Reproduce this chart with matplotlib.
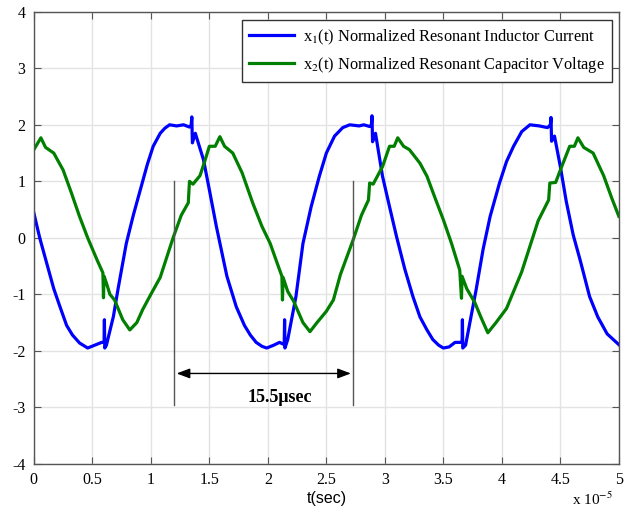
import matplotlib
matplotlib.use('Agg')
import matplotlib.pyplot as plt

# time axis in units of 1e-5 s
t_x1 = [0, 0.05, 0.11, 0.17, 0.22, 0.28, 0.33, 0.39, 0.46, 0.52, 0.58, 0.60, 0.603, 0.606, 0.62,
        0.68, 0.72, 0.79, 0.85, 0.91, 0.97, 1.02, 1.08, 1.12, 1.16, 1.22, 1.28, 1.33, 1.345, 1.35, 1.355,
        1.38, 1.45, 1.50, 1.56, 1.65, 1.73, 1.80, 1.85, 1.90, 1.95, 1.99, 2.05, 2.10, 2.13, 2.14, 2.143,
        2.146, 2.17, 2.24, 2.30, 2.37, 2.44, 2.50, 2.57, 2.64, 2.70, 2.78, 2.82, 2.87, 2.885, 2.89,
        2.895, 2.92, 2.98, 3.04, 3.10, 3.17, 3.24, 3.30, 3.36, 3.41, 3.46, 3.50, 3.55, 3.60, 3.65, 3.66, 3.663,
        3.666, 3.69, 3.78, 3.84, 3.90, 3.98, 4.04, 4.10, 4.17, 4.24, 4.32, 4.39, 4.415, 4.42, 4.425,
        4.45, 4.50, 4.55, 4.61, 4.67, 4.75, 4.82, 4.90, 5.0]
x1 = [0.44, 0.0, -0.45, -0.9, -1.2, -1.55, -1.72, -1.86, -1.95, -1.9, -1.85, -1.85, -1.45, -1.95, -1.9,
      -1.39, -0.9, -0.1, 0.4, 0.85, 1.3, 1.62, 1.85, 1.94, 2.0, 1.98, 2.0, 1.96, 2.0, 2.14, 1.68,
      1.85, 1.38, 0.85, 0.2, -0.68, -1.22, -1.55, -1.72, -1.85, -1.92, -1.95, -1.9, -1.85, -1.88, -1.85, -1.45,
      -1.95, -1.8, -1.04, -0.1, 0.55, 1.09, 1.5, 1.8, 1.95, 2.0, 1.98, 2.0, 1.97, 2.0, 2.16,
      1.7, 1.85, 1.09, 0.55, 0.02, -0.55, -1.04, -1.4, -1.63, -1.8, -1.9, -1.95, -1.93, -1.85, -1.85, -1.85, -1.45,
      -1.95, -1.9, -0.92, -0.2, 0.38, 0.97, 1.35, 1.62, 1.88, 2.0, 1.98, 1.95, 2.0, 2.13, 1.71,
      1.8, 1.26, 0.65, 0.05, -0.4, -1.04, -1.4, -1.7, -1.89]

t_x2 = [0, 0.06, 0.10, 0.17, 0.25, 0.32, 0.39, 0.46, 0.54, 0.59, 0.595, 0.60, 0.62, 0.65, 0.69,
        0.76, 0.82, 0.88, 0.93, 1.00, 1.08, 1.19, 1.26, 1.32, 1.33, 1.36, 1.42, 1.46, 1.50, 1.55,
        1.59, 1.63, 1.70, 1.78, 1.87, 1.95, 2.02, 2.08, 2.12, 2.125, 2.13, 2.17, 2.22, 2.30, 2.36,
        2.42, 2.50, 2.56, 2.62, 2.73, 2.80, 2.86, 2.87, 2.90, 2.98, 3.04, 3.08, 3.11, 3.16, 3.21,
        3.30, 3.36, 3.43, 3.50, 3.57, 3.64, 3.655, 3.66, 3.70, 3.77, 3.82, 3.88, 3.95, 4.04, 4.10,
        4.17, 4.24, 4.31, 4.40, 4.41, 4.46, 4.50, 4.58, 4.62, 4.65, 4.70, 4.78, 4.87, 4.94, 5.0]
x2 = [1.56, 1.77, 1.6, 1.5, 1.2, 0.8, 0.38, 0.0, -0.39, -0.62, -1.06, -0.68, -0.8, -1.0, -1.1,
      -1.45, -1.63, -1.5, -1.27, -1.0, -0.7, 0.0, 0.4, 0.62, 1.0, 0.95, 1.1, 1.35, 1.62, 1.62,
      1.79, 1.62, 1.5, 1.15, 0.62, 0.2, -0.1, -0.45, -0.68, -1.1, -0.7, -0.95, -1.12, -1.5, -1.66,
      -1.5, -1.3, -1.1, -0.65, -0.03, 0.4, 0.67, 0.97, 0.95, 1.26, 1.62, 1.62, 1.77, 1.62, 1.56,
      1.32, 1.09, 0.7, 0.32, -0.1, -0.57, -1.07, -0.68, -0.9, -1.15, -1.4, -1.68, -1.5, -1.25, -0.95,
      -0.6, -0.15, 0.3, 0.67, 0.97, 0.98, 1.2, 1.62, 1.62, 1.77, 1.6, 1.5, 1.1, 0.7, 0.38]

marker_t = [1.2, 2.73]
period_label = '15.5\u03bcsec'

plt.rcParams['mathtext.fontset'] = 'stix'
plt.rcParams['axes.unicode_minus'] = False
serif = 'Liberation Serif'

fig = plt.figure(figsize=(6.27, 5.12), dpi=100)
ax = fig.add_axes([0.054, 0.094, 0.933, 0.883])

ax.plot(t_x1, x1, color='#0000ff', lw=2.3,
        label=r'x$_1$(t) Normalized Resonant Inductor Current')
ax.plot(t_x2, x2, color='#007f00', lw=2.3,
        label=r'x$_2$(t) Normalized Resonant Capacitor Voltage')

for t in marker_t:
    ax.plot([t, t], [1, -2.95], color='#555555', lw=1)
ax.annotate('', xy=(marker_t[0] + 0.02, -2.4), xytext=(marker_t[1] - 0.02, -2.4),
            arrowprops=dict(arrowstyle='<|-|>,head_length=0.8,head_width=0.3',
                            color='black', lw=1, shrinkA=0, shrinkB=0))
ax.text(2.1, -2.82, period_label, ha='center', va='center', fontsize=13,
        fontweight='bold', family=serif)

ax.set_xlim(0, 5)
ax.set_ylim(-4, 4)
ax.set_xticks([0, 0.5, 1, 1.5, 2, 2.5, 3, 3.5, 4, 4.5, 5])
ax.set_xticklabels(['0', '0.5', '1', '1.5', '2', '2.5', '3', '3.5', '4', '4.5', '5'])
ax.set_yticks(range(-4, 5))
ax.grid(True, color='#e3e3e3', lw=1)
ax.tick_params(direction='in', top=True, right=True, length=5, color='#555555',
               labelsize=11.5, pad=6)
for lab in ax.get_xticklabels() + ax.get_yticklabels():
    lab.set_family(serif)
for s in ax.spines.values():
    s.set_color('#555555')
    s.set_linewidth(1)

ax.set_xlabel('t(sec)', fontsize=11.5, family='Liberation Sans', labelpad=2)
fig.text(0.977, 0.008, r'x 10$^{-5}$', ha='right', va='bottom', fontsize=11, family=serif)

leg = ax.legend(loc='upper right', bbox_to_anchor=(0.988, 0.982), borderaxespad=0,
                prop={'family': serif, 'size': 11.8},
                fancybox=False, edgecolor='#333333', framealpha=1, handlelength=2.75,
                borderpad=0.45, labelspacing=0.5, handletextpad=0.5)
leg.get_frame().set_linewidth(1)

fig.savefig('out.png', dpi=100)
